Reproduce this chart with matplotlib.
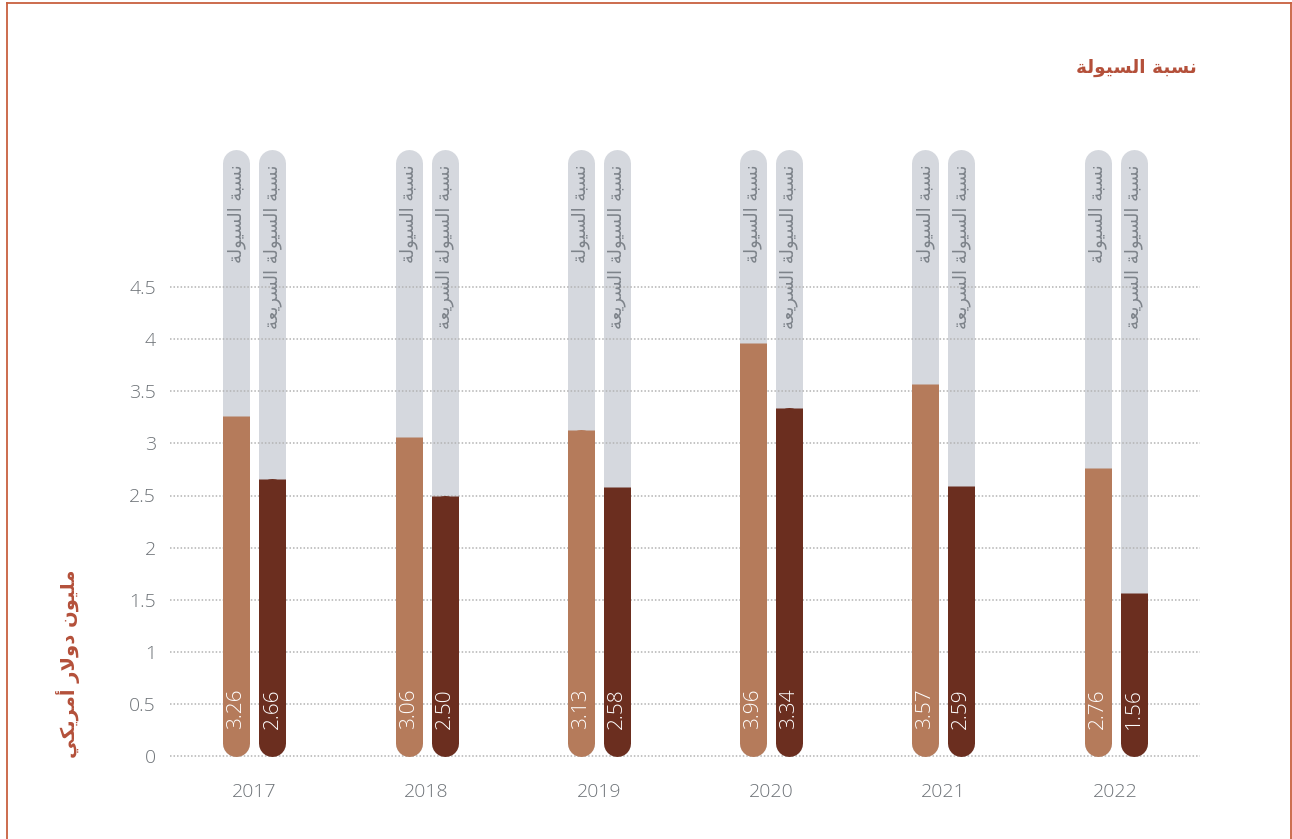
import matplotlib
matplotlib.use("Agg")
import matplotlib.pyplot as plt
from matplotlib.lines import Line2D

plt.rcParams['font.family'] = ['Open Sans', 'DejaVu Sans']

years = ['2017', '2018', '2019', '2020', '2021', '2022']
liquidity = [3.26, 3.06, 3.13, 3.96, 3.57, 2.76]
quick = [2.66, 2.50, 2.58, 3.34, 2.59, 1.56]
yticks = [0, 0.5, 1, 1.5, 2, 2.5, 3, 3.5, 4, 4.5]

title_txt = 'نسبة السيولة'
series1_txt = 'نسبة السيولة'
series2_txt = 'نسبة السيولة السريعة'
ylabel_txt = 'مليون دولار أمريكي'

# arabic presentation forms: isolated, final, initial, medial
FORMS = {
    'ا': ('\ufe8d', '\ufe8e', None, None),
    'أ': ('\ufe83', '\ufe84', None, None),
    'ب': ('\ufe8f', '\ufe90', '\ufe91', '\ufe92'),
    'ة': ('\ufe93', '\ufe94', None, None),
    'د': ('\ufea9', '\ufeaa', None, None),
    'ر': ('\ufead', '\ufeae', None, None),
    'س': ('\ufeb1', '\ufeb2', '\ufeb3', '\ufeb4'),
    'ع': ('\ufec9', '\ufeca', '\ufecb', '\ufecc'),
    'ك': ('\ufed9', '\ufeda', '\ufedb', '\ufedc'),
    'ل': ('\ufedd', '\ufede', '\ufedf', '\ufee0'),
    'م': ('\ufee1', '\ufee2', '\ufee3', '\ufee4'),
    'ن': ('\ufee5', '\ufee6', '\ufee7', '\ufee8'),
    'و': ('\ufeed', '\ufeee', None, None),
    'ي': ('\ufef1', '\ufef2', '\ufef3', '\ufef4'),
    'لا': ('\ufefb', '\ufefc', None, None),
    'لأ': ('\ufef7', '\ufef8', None, None),
}


def shape(text):
    # merge lam-alef
    chars = []
    i = 0
    while i < len(text):
        if text[i] == 'ل' and i + 1 < len(text) and text[i:i + 2] in FORMS:
            chars.append(text[i:i + 2])
            i += 2
        else:
            chars.append(text[i])
            i += 1
    out = []
    for i, c in enumerate(chars):
        if c not in FORMS:
            out.append(c)
            continue
        prev = chars[i - 1] if i > 0 else None
        nxt = chars[i + 1] if i + 1 < len(chars) else None
        jp = prev in FORMS and FORMS[prev][2] is not None
        jn = FORMS[c][2] is not None and nxt in FORMS
        iso, fin, ini, med = FORMS[c]
        if jp and jn:
            out.append(med)
        elif jp:
            out.append(fin)
        elif jn:
            out.append(ini)
        else:
            out.append(iso)
    return ''.join(out)[::-1]


W, H = 1292, 839
fig = plt.figure(figsize=(W / 100, H / 100), dpi=100)
xmin, xmax = -0.49, len(years) - 0.51
ymin, ymax = -0.05, 6
px_unit = 104.2
ax_px = [170, 83 + ymin * px_unit, 1030, (ymax - ymin) * px_unit]
ax = fig.add_axes([ax_px[0] / W, ax_px[1] / H, ax_px[2] / W, ax_px[3] / H])
ax.set_xlim(xmin, xmax)
ax.set_ylim(ymin, ymax)

gray = '#d5d8de'
c1 = '#b57b5b'
c2 = '#6b2e1f'
accent = '#b4503a'
tick_col = '#6e7378'

bar_px = 27
px_x = ax_px[2] / (xmax - xmin)
r = bar_px / 2 / px_unit
lw = bar_px * 72 / 100
off = 18 / px_x
top = 5.82

for yv in yticks:
    ax.axhline(yv, color='#b3b3b3', lw=1.1, ls=(0, (1, 1.3)), zorder=2)

for i, yr in enumerate(years):
    for x, v, col, lab in [(i - off, liquidity[i], c1, series1_txt),
                           (i + off, quick[i], c2, series2_txt)]:
        ax.plot([x, x], [r, top - r], color=gray, lw=lw,
                solid_capstyle='round', zorder=1)
        ax.plot([x, x], [r, v - r], color=col, lw=lw,
                solid_capstyle='round', zorder=3)
        ax.plot([x, x], [r, v], color=col, lw=lw,
                solid_capstyle='butt', zorder=3)
        ax.text(x, top - 0.14, shape(lab), rotation=90, ha='center',
                va='top', fontsize=13, color='#7d838a', zorder=4,
                family=['DejaVu Sans'])
        ax.text(x, 0.26, '%.2f' % v, rotation=90, ha='center',
                va='bottom', fontsize=15, color='white', zorder=4,
                fontweight='light')

ax.set_xticks(range(len(years)))
ax.set_xticklabels(years, fontweight='light')
ax.set_yticks(yticks)
ax.set_yticklabels(['%g' % t for t in yticks], fontweight='light')
ax.tick_params(length=0, labelsize=14, labelcolor=tick_col)
ax.tick_params(axis='x', pad=16)
ax.tick_params(axis='y', pad=10)
for s in ax.spines.values():
    s.set_visible(False)

fig.text(1197 / W, 1 - 68 / H, shape(title_txt), ha='right', va='center',
         fontsize=13.3, fontweight='bold', color=accent, family=['DejaVu Sans'])
fig.text(68 / W, 1 - 664 / H, shape(ylabel_txt), ha='center', va='center',
         rotation=90, fontsize=14, fontweight='bold', color=accent,
         family=['DejaVu Sans'])

border = '#c8603f'
fig.add_artist(Line2D([6.5 / W, 6.5 / W], [0, 1 - 2.5 / H], color=border, lw=1.3))
fig.add_artist(Line2D([6.5 / W, 1290.5 / W], [1 - 2.5 / H, 1 - 2.5 / H], color=border, lw=1.3))
fig.add_artist(Line2D([1290.5 / W, 1290.5 / W], [0, 1 - 2.5 / H], color=border, lw=1.3))

fig.savefig('out.png', dpi=100)
